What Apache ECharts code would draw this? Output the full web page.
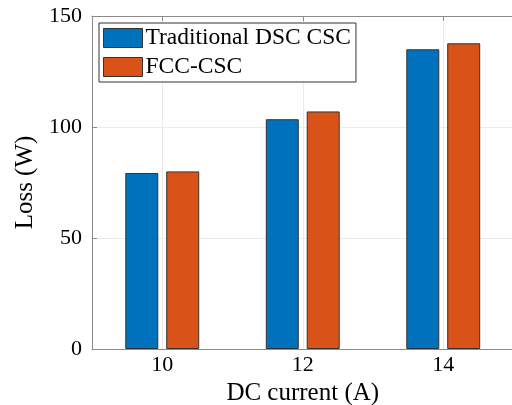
<!DOCTYPE html>
<html><head><meta charset="utf-8">
<script src="https://cdn.jsdelivr.net/npm/echarts@6/dist/echarts.min.js"></script>
<style>html,body{margin:0;padding:0;background:#fff}#c{width:512px;height:405px}</style>
</head><body><div id="c"></div>
<script>
const categories = ['10', '12', '14'];
const seriesNames = ['Traditional DSC CSC', 'FCC-CSC'];
const traditional = [79.3, 103.5, 135.0];
const fcc = [80.0, 107.0, 137.7];
const yTicks = [0, 50, 100, 150];

const font = 'Liberation Serif, Times New Roman, serif';
const topData = [];
categories.forEach(c => { topData.push(''); topData.push(c); });
topData.push('');
const odd = i => i % 2 === 1;

const chart = echarts.init(document.getElementById('c'), null, {renderer: 'canvas'});
chart.setOption({
  animation: false,
  backgroundColor: '#fff',
  grid: {left: 92, top: 16, width: 421.5, height: 333, containLabel: false, outerBoundsMode: 'none'},
  legend: {
    data: seriesNames,
    orient: 'vertical',
    left: 99, top: 23,
    padding: [3, 5, 3, 4],
    itemWidth: 39, itemHeight: 19, itemGap: 5,
    borderColor: '#333', borderWidth: 1, backgroundColor: '#fff',
    icon: 'rect',
    textStyle: {fontFamily: font, fontSize: 23.5, color: '#000', padding: [0, 0, 0, -2]},
    itemStyle: {borderColor: '#333', borderWidth: 1}
  },
  xAxis: [{
    type: 'category', data: categories, position: 'bottom',
    name: 'DC current (A)', nameLocation: 'middle', nameGap: 27,
    nameTextStyle: {fontFamily: font, fontSize: 25, color: '#000'},
    axisLine: {lineStyle: {color: '#8a8a8a', width: 1}},
    axisTick: {alignWithLabel: true, inside: true, length: 5, lineStyle: {color: '#8a8a8a'}},
    axisLabel: {fontFamily: font, fontSize: 22, color: '#000', margin: 5},
    splitLine: {show: false}
  }, {
    type: 'category', data: topData, position: 'top', boundaryGap: false,
    axisLine: {lineStyle: {color: '#8a8a8a', width: 1}},
    axisTick: {inside: true, length: 5, interval: (i) => odd(i), lineStyle: {color: '#8a8a8a'}},
    axisLabel: {show: false},
    splitLine: {show: true, interval: (i) => odd(i), lineStyle: {color: '#ebebeb', width: 1}}
  }],
  yAxis: {
    type: 'value', min: yTicks[0], max: yTicks[yTicks.length - 1], interval: yTicks[1] - yTicks[0],
    name: 'Loss (W)', nameLocation: 'middle', nameGap: 53,
    nameTextStyle: {fontFamily: font, fontSize: 25, color: '#000'},
    axisLine: {show: true, lineStyle: {color: '#8a8a8a', width: 1}},
    axisTick: {show: true, inside: true, length: 5, lineStyle: {color: '#8a8a8a'}},
    axisLabel: {fontFamily: font, fontSize: 22, color: '#000', margin: 10},
    splitLine: {show: true, lineStyle: {color: '#ebebeb', width: 1}}
  },
  series: [{
    name: seriesNames[0], type: 'bar', data: traditional, xAxisIndex: 0,
    barWidth: 33, barGap: '24%',
    itemStyle: {color: '#0072BD', borderColor: '#333', borderWidth: 1}
  }, {
    name: seriesNames[1], type: 'bar', data: fcc, xAxisIndex: 0,
    barWidth: 33, barGap: '24%',
    itemStyle: {color: '#D95319', borderColor: '#333', borderWidth: 1}
  }]
});
</script></body></html>
